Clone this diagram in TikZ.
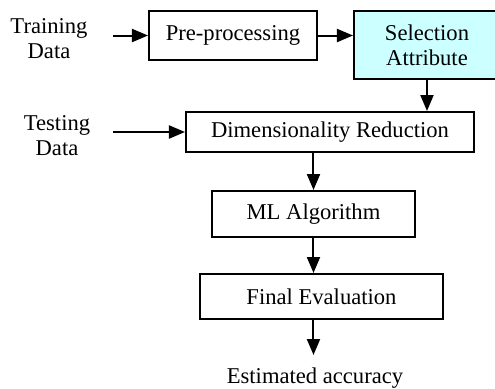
\documentclass[tikz,border=0pt]{standalone}
\usepackage{fontspec}
\setmainfont{Liberation Serif}
\usetikzlibrary{arrows.meta}
\definecolor{selcyan}{HTML}{CCFFFF}
\tikzset{
  stagebox/.style={draw=black, line width=1pt, rectangle, inner sep=0pt, align=center,
    font=\fontsize{11.3}{12.5}\selectfont},
  flowarrow/.style={line width=1pt, -{Triangle[length=8pt,width=6.5pt]}},
  sidelabel/.style={align=center, font=\fontsize{11.3}{12.5}\selectfont}
}
\begin{document}
\begin{tikzpicture}[x=0.5pt,y=-0.5pt]
\useasboundingbox (0,0) rectangle (495,388);
% draws boxes
\node[stagebox, minimum width=84pt, minimum height=24.5pt] (pre) at (233,35.5) {Pre-processing};
\node[stagebox, fill=selcyan, minimum width=73pt, minimum height=34pt] (sel) at (427,45) {Selection\\Attribute};
\node[stagebox, minimum width=144pt, minimum height=20pt] (dim) at (330,132) {Dimensionality Reduction};
\node[stagebox, minimum width=101.5pt, minimum height=23pt] (ml) at (313.5,214) {ML Algorithm};
\node[stagebox, minimum width=121.5pt, minimum height=22.5pt] (fin) at (321.5,296.5) {Final Evaluation};
% labels
\node[sidelabel] (train) at (49,39) {Training\\Data};
\node[sidelabel] (test) at (57,136) {Testing\\Data};
\node[sidelabel] (est) at (315,378) {Estimated accuracy};
\coordinate (trainin) at (113,35.5);
\coordinate (testin) at (113,132);
\coordinate (out) at (313.5,355);
% draws arrows
\draw[flowarrow] (trainin) -- (pre.west);
\draw[flowarrow] (pre.east) -- (pre.east -| sel.west);
\draw[flowarrow] (sel.south) -- (sel.south |- dim.north);
\draw[flowarrow] (testin) -- (dim.west);
\draw[flowarrow] (ml.north |- dim.south) -- (ml.north);
\draw[flowarrow] (ml.south) -- (ml.south |- fin.north);
\draw[flowarrow] (fin.south -| out) -- (out);
\end{tikzpicture}
\end{document}
